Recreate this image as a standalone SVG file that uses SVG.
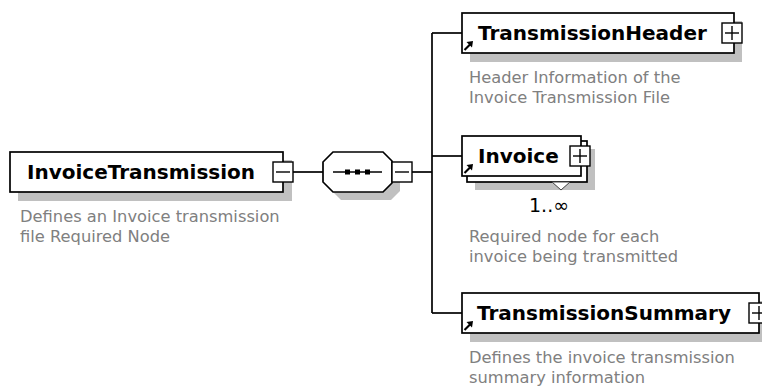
<svg xmlns="http://www.w3.org/2000/svg" width="762" height="392" viewBox="0 0 762 392">
<style>
.bg{fill:#ffffff}
.box{fill:#ffffff;stroke:#000000;stroke-width:1.7}
.shadow{fill:#c0c0c0;stroke:none}
.btn{fill:#ffffff;stroke:#000000;stroke-width:1.4}
.sign{stroke:#000000;stroke-width:1.4;fill:none}
.wire{stroke:#000000;stroke-width:1.7;fill:none}
.name{font-family:"DejaVu Sans","Verdana",sans-serif;font-weight:bold;font-size:20px;fill:#000000}
.desc{font-family:"DejaVu Sans","Verdana",sans-serif;font-size:16.3px;fill:#808080}
.card{font-family:"DejaVu Sans","Verdana",sans-serif;font-size:19px;fill:#000000}
.ref{fill:none;stroke:#000000;stroke-width:2.2}
</style>
<defs>
<g id="refArrow">
<line class="ref" x1="0.5" y1="9" x2="6" y2="3.5"/>
<polygon points="9,0 2.5,1 8,6.5" fill="#000000"/>
</g>
</defs>
<rect class="bg" x="0" y="0" width="762" height="392"/>

<g id="connectors">
<line class="wire" x1="293" y1="172" x2="323" y2="172"/>
<line class="wire" x1="412" y1="172" x2="432" y2="172"/>
<line class="wire" x1="432" y1="33" x2="432" y2="313"/>
<line class="wire" x1="432" y1="33" x2="462" y2="33"/>
<line class="wire" x1="432" y1="156" x2="462" y2="156"/>
<line class="wire" x1="432" y1="313" x2="462" y2="313"/>
</g>

<g id="InvoiceTransmission">
<rect class="shadow" x="18" y="160" width="274" height="41"/>
<rect class="box" x="10" y="152" width="273" height="40"/>
<text class="name" x="27" y="179">InvoiceTransmission</text>
<rect class="btn" x="273" y="162" width="20" height="20"/>
<line class="sign" x1="276" y1="172" x2="290" y2="172"/>
<text class="desc" x="20" y="222">Defines an Invoice transmission</text>
<text class="desc" x="20" y="242">file Required Node</text>
</g>

<g id="sequence">
<polygon class="shadow" points="331,170 341,160 391,160 400,169 400,191 391,200 341,200 331,190"/>
<polygon class="box" points="323,162 333,152 383,152 392,161 392,183 383,192 333,192 323,182"/>
<line class="wire" x1="333" y1="172" x2="382" y2="172"/>
<rect x="345" y="169.5" width="5" height="5" fill="#000000"/>
<rect x="355" y="169.5" width="5" height="5" fill="#000000"/>
<rect x="365" y="169.5" width="5" height="5" fill="#000000"/>
<rect class="btn" x="392" y="162" width="20" height="20"/>
<line class="sign" x1="395" y1="172" x2="409" y2="172"/>
</g>

<g id="TransmissionHeader">
<rect class="shadow" x="470" y="21" width="272" height="41"/>
<rect class="box" x="462" y="13" width="272" height="40"/>
<use href="#refArrow" x="464" y="41"/>
<text class="name" x="478" y="40">TransmissionHeader</text>
<rect class="btn" x="722" y="23" width="20" height="20"/>
<line class="sign" x1="725" y1="33" x2="739" y2="33"/>
<line class="sign" x1="732" y1="26" x2="732" y2="40"/>
<text class="desc" x="469" y="83">Header Information of the</text>
<text class="desc" x="469" y="103">Invoice Transmission File</text>
</g>

<g id="Invoice">
<rect class="shadow" x="475" y="149" width="120" height="41"/>
<rect class="box" x="467" y="141" width="120" height="41"/>
<rect class="box" x="462" y="136" width="119" height="40"/>
<polygon points="552,182 570,182 561,190" fill="#ffffff" stroke="#404040" stroke-width="1"/>
<use href="#refArrow" x="464" y="164"/>
<text class="name" x="478" y="163">Invoice</text>
<rect class="btn" x="570" y="146" width="20" height="20"/>
<line class="sign" x1="573" y1="156" x2="587" y2="156"/>
<line class="sign" x1="580" y1="149" x2="580" y2="163"/>
<text class="card" x="549" y="212" text-anchor="middle">1..∞</text>
<text class="desc" x="469" y="242">Required node for each</text>
<text class="desc" x="469" y="262">invoice being transmitted</text>
</g>

<g id="TransmissionSummary">
<rect class="shadow" x="470" y="301" width="300" height="41"/>
<rect class="box" x="462" y="293" width="297" height="40"/>
<use href="#refArrow" x="464" y="321"/>
<text class="name" x="477" y="320">TransmissionSummary</text>
<rect class="btn" x="749" y="303" width="20" height="20"/>
<line class="sign" x1="752" y1="313" x2="766" y2="313"/>
<line class="sign" x1="759" y1="306" x2="759" y2="320"/>
<text class="desc" x="469" y="363">Defines the invoice transmission</text>
<text class="desc" x="469" y="383">summary information</text>
</g>
</svg>
